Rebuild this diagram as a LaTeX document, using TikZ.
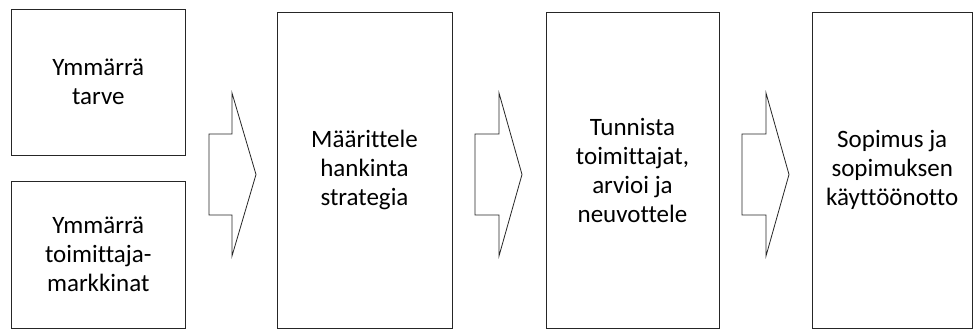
\documentclass[tikz,border=0pt]{standalone}
\usepackage{fontspec}
\setmainfont{Carlito}[Ligatures=NoCommon]
\tikzset{
  stagebox/.style={draw=black!85, line width=0.9pt, inner sep=0pt, align=center,
    font=\fontsize{25}{29}\selectfont},
  blockarrow/.style={draw=black!85, line width=0.8pt, line join=miter, fill=white}
}
\begin{document}
\begin{tikzpicture}[x=1pt, y=-1pt]
  % canvas
  \fill[white] (0,0) rectangle (974,329);
  \useasboundingbox (0,0) rectangle (974,329);

  % process stages
  \node[stagebox, minimum width=173.5pt, minimum height=146.5pt] (need) at (98.25,82.25) {Ymmärrä\\tarve};
  \node[stagebox, minimum width=173.5pt, minimum height=147pt] (market) at (98.25,254.5) {Ymmärrä\\toimittaja-\\markkinat};
  \node[stagebox, minimum width=175pt, minimum height=316pt] (strategy) at (364.5,170) {Määrittele\\hankinta\\strategia};
  \node[stagebox, minimum width=173pt, minimum height=316pt] (suppliers) at (632.5,170) {Tunnista\\toimittajat,\\arvioi ja\\neuvottele};
  \node[stagebox, minimum width=160.5pt, minimum height=316pt] (contract) at (892.25,170) {Sopimus ja\\sopimuksen\\käyttöönotto};

  % block arrows between the stages
  \foreach \sx/\hx/\tx in {209/232/256, 475/499/522, 742/766/789}{
    \draw[blockarrow] (\sx,134) -- (\hx,134) -- (\hx,93) -- (\tx,174.5)
      -- (\hx,256) -- (\hx,215) -- (\sx,215) -- cycle;
  }
\end{tikzpicture}
\end{document}
